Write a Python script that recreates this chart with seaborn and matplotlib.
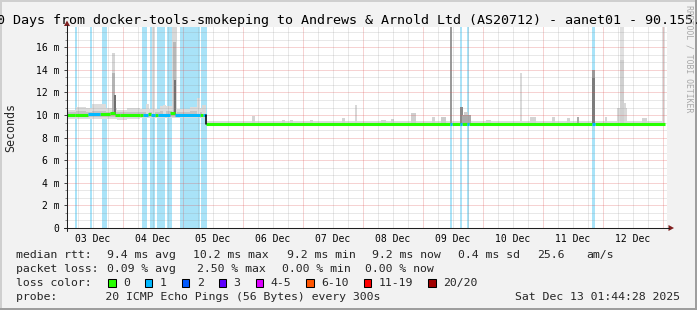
import numpy as np
import pandas as pd
import matplotlib
matplotlib.use("Agg")
import matplotlib.pyplot as plt
from matplotlib.patches import Rectangle, Polygon
from matplotlib.lines import Line2D
import seaborn as sns

# ---------------- data (time in hours since 03 Dec 00:00, values in ms) -------------
day_labels = ["03 Dec", "04 Dec", "05 Dec", "06 Dec", "07 Dec",
              "08 Dec", "09 Dec", "10 Dec", "11 Dec", "12 Dec"]
y_ticks = [0, 2, 4, 6, 8, 10, 12, 14, 16]
y_labels = ["0", "2 m", "4 m", "6 m", "8 m", "10 m", "12 m", "14 m", "16 m"]

# light-blue loss background bands (start, end)
loss_start = [4.9, 10.9, 15.7, 31.7, 34.9, 37.7, 41.6, 47.0, 55.3, 154.9, 158.9, 161.6, 211.6]
loss_end = [5.8, 11.8, 17.7, 33.7, 36.9, 40.9, 43.7, 54.9, 57.7, 155.6, 159.9, 162.6, 212.9]

# median rtt step line: segment start, value, loss class
med_t = [1.7, 4.9, 10.1, 14.9, 18.9, 20.9, 22.9, 30.9, 32.1, 34.1, 35.3, 36.9, 38.1,
         42.9, 44.9, 54.9, 56.1, 57.3, 154.9, 155.6, 158.9, 159.9, 161.6, 162.6,
         211.6, 212.9]
med_v = [10.0, 10.05, 10.08, 10.1, 10.2, 10.0, 9.97, 10.05, 10.05, 10.08, 10.05, 10.05,
         10.05, 10.2, 10.05, 10.05, 10.05, 9.22, 9.22, 9.22, 9.22, 9.22, 9.22, 9.22,
         9.22, 9.22]
med_loss = ["0", "0", "1", "0", "0", "0", "0", "0", "1", "0", "1", "0", "1",
            "0", "1", "0", "1", "0", "1", "0", "1", "0", "1", "0", "1", "0"]
med_end = 240.9

# smoke envelope (step)
smoke_t = [1.7, 5.3, 9.3, 11.7, 17.3, 21.7, 25.7, 30.9, 38.9, 45.3, 50.9, 54.9, 57.3, 240.9]
smoke_lo = [9.65, 9.65, 9.65, 9.65, 9.65, 9.6, 9.65, 9.7, 9.7, 9.7, 9.7, 9.7, 9.1, 9.1]
smoke_hi = [10.45, 10.75, 10.6, 10.95, 10.6, 10.45, 10.6, 10.55, 10.8, 10.55, 10.75, 10.6, 9.47, 9.47]
core_lo = [9.85, 9.85, 9.85, 9.85, 9.85, 9.8, 9.85, 9.85, 9.85, 9.85, 9.85, 9.85, 9.15, 9.15]
core_hi = [10.3, 10.35, 10.3, 10.4, 10.3, 10.25, 10.3, 10.3, 10.35, 10.3, 10.35, 10.3, 9.3, 9.3]

# smoke spikes: centre, width, top, grey
spike_t = [20.2, 20.2, 21.0, 34.1, 36.3, 40.9, 44.7, 44.7, 44.9, 54.5, 56.5,
           76.2, 88.2, 91.7, 99.5, 112.2, 117.3, 128.5, 132.1, 140.5, 148.3, 152.5,
           155.3, 159.4, 161.3, 161.7, 170.5, 183.2, 188.1, 196.2, 202.2, 206.1,
           212.2, 212.2, 217.3, 223.6, 223.8, 223.8, 225.0, 232.6, 240.2]
spike_w = [1.3, 1.3, 0.8, 1.2, 1.4, 1.2, 1.8, 1.4, 1.0, 1.2, 1.6,
           1.3, 1.3, 1.2, 1.2, 1.3, 0.8, 2.0, 1.2, 2.0, 1.2, 2.0,
           0.8, 1.1, 1.6, 3.6, 2.0, 0.7, 2.7, 1.3, 1.3, 1.0,
           1.3, 1.3, 0.7, 4.0, 1.7, 1.7, 0.9, 2.0, 1.3]
spike_top = [15.5, 13.7, 11.8, 11.0, 17.8, 10.9, 17.8, 16.5, 13.1, 11.5, 10.9,
             9.9, 9.6, 9.6, 9.55, 9.75, 10.9, 9.6, 9.65, 10.2, 9.85, 9.8,
             17.8, 10.7, 10.3, 10.05, 9.6, 13.7, 9.8, 9.8, 9.7, 9.8,
             14.0, 13.3, 9.8, 10.6, 17.8, 14.9, 11.1, 9.7, 17.8]
spike_col = ["#d6d6d6", "#b4b4b4", "#6e6e6e", "#dddddd", "#dcdcdc", "#dddddd", "#d8d8d8",
             "#b8b8b8", "#727272", "#dddddd", "#d8d8d8",
             "#d4d4d4", "#d4d4d4", "#d4d4d4", "#d4d4d4", "#d4d4d4", "#d8d8d8", "#d4d4d4",
             "#d4d4d4", "#cfcfcf", "#d4d4d4", "#cccccc",
             "#9a9a9a", "#8a8a8a", "#cfcfcf", "#aaaaaa", "#d4d4d4", "#dadada", "#d4d4d4",
             "#d4d4d4", "#d4d4d4", "#aaaaaa",
             "#9a9a9a", "#7c7c7c", "#d4d4d4", "#d8d8d8", "#e0e0e0", "#d0d0d0", "#d8d8d8",
             "#d4d4d4", "#dedede"]

loss_names = ["0", "1", "2", "3", "4-5", "6-10", "11-19", "20/20"]
loss_colors = ["#26ff00", "#00b8ff", "#0059ff", "#5e00ff", "#dd00ff", "#ff5500", "#ff0000", "#a10000"]

title = "10 Days from docker-tools-smokeping to Andrews & Arnold Ltd (AS20712) - aanet01 - 90.155.53.19"
rtt_items = ["median rtt:", "9.4 ms avg", "10.2 ms max", "9.2 ms min", "9.2 ms now",
             "0.4 ms sd", "25.6", "am/s"]
loss_items = ["packet loss:", "0.09 % avg", "2.50 % max", "0.00 % min", "0.00 % now"]
line3 = "loss color:"
line4 = "probe:       20 ICMP Echo Pings (56 Bytes) every 300s"
stamp = "Sat Dec 13 01:44:28 2025"

# ---------------- figure ----------------
sns.set_theme(style="white")
plt.rcParams["font.family"] = ["DejaVu Sans Mono", "DejaVu Sans"]

W, H = 697, 310
L, R, T, B = 67, 667, 27, 228
fig = plt.figure(figsize=(W / 100, H / 100), dpi=100)
fig.patch.set_facecolor("#f2f2f2")
ax = fig.add_axes([L / W, 1 - B / H, (R - L) / W, (B - T) / H])
ax.set_facecolor("white")
X0, X1 = 1.72, 241.72
YMAX = 17.8

# loss bands
for s, e in zip(loss_start, loss_end):
    ax.axvspan(s, e, color="#a9e3f8", lw=0, zorder=1)

# smoke envelope
ax.fill_between(smoke_t, smoke_lo, smoke_hi, step="post", color="#dcdcdc", lw=0, zorder=2)
ax.fill_between(smoke_t, core_lo, core_hi, step="post", color="#c4c4c4", lw=0, zorder=2)

# spikes
med_t_arr = np.array(med_t)
base = [med_v[int(np.searchsorted(med_t_arr, t, side="right")) - 1] for t in spike_t]
heights = [top - b for top, b in zip(spike_top, base)]
ax.bar(spike_t, heights, width=spike_w, bottom=base, color=spike_col, lw=0, zorder=3)

# grid
grey = (0.56, 0.56, 0.56, 0.4)
red = (0.87, 0.31, 0.31, 0.5)
dots = (0, (1, 1))
for k in range(1, 41):
    h = 6 * k
    if h > X1:
        break
    col = red if h % 24 == 0 else grey
    ax.axvline(h, color=col, lw=0.72, ls=dots, zorder=4)
yminor = [i * 2 / 3 for i in range(1, 27)]
for i, y in enumerate(yminor, start=1):
    if y >= YMAX:
        break
    col = red if i % 3 == 0 else grey
    ax.axhline(y, color=col, lw=0.72, ls=dots, zorder=4)

# median line
rows = []
for i in range(len(med_t)):
    t1 = med_t[i + 1] if i + 1 < len(med_t) else med_end
    rows.append(dict(t=med_t[i], v=med_v[i], seg=i, loss=med_loss[i]))
    rows.append(dict(t=t1, v=med_v[i], seg=i, loss=med_loss[i]))
df = pd.DataFrame(rows)
sns.lineplot(data=df, x="t", y="v", units="seg", hue="loss",
             palette={"0": loss_colors[0], "1": loss_colors[1]},
             estimator=None, sort=False, legend=False, lw=2.2,
             solid_capstyle="butt", ax=ax, zorder=6)
ax.plot([57.3, 57.3], [10.05, 9.22], color="black", lw=1.1, zorder=7)

ax.set_xlim(X0, X1)
ax.set_ylim(0, YMAX)
ax.set_xlabel("")
ax.set_ylabel("")
for sp in ax.spines.values():
    sp.set_visible(False)

ax.set_xticks([12 + 24 * i for i in range(len(day_labels))])
ax.set_xticklabels(day_labels)
ax.set_xticks([6 * k for k in range(1, 41) if 6 * k < X1], minor=True)
ax.set_yticks(y_ticks)
ax.set_yticklabels(y_labels)
ax.set_yticks([y for y in yminor if y < YMAX], minor=True)
ax.tick_params(axis="x", which="major", length=0, pad=4.0, labelsize=7, labelcolor="black")
ax.tick_params(axis="x", which="minor", length=1.5, width=0.7, color="#8f8f8f", direction="out")
ax.tick_params(axis="y", which="major", length=2.2, width=0.7, color="#444444", pad=3.2,
               labelsize=7, labelcolor="black", left=True)
ax.tick_params(axis="y", which="minor", length=1.5, width=0.7, color="#8f8f8f", left=True)

# ---------------- overlay in pixel coordinates ----------------
ov = fig.add_axes([0, 0, 1, 1], zorder=10)
ov.set_xlim(0, W)
ov.set_ylim(H, 0)
ov.axis("off")
ov.patch.set_alpha(0)

# frame shading
ov.add_line(Line2D([0, W], [1, 1], color="#cfcfcf", lw=1.44))
ov.add_line(Line2D([1, 1], [0, H], color="#cfcfcf", lw=1.44))
ov.add_line(Line2D([0, W], [H - 1, H - 1], color="#9e9e9e", lw=1.44))
ov.add_line(Line2D([W - 1, W - 1], [0, H], color="#9e9e9e", lw=1.44))

# axes with arrows
ov.add_line(Line2D([L, L], [B + 3, T - 2], color="#1f1f1f", lw=0.75))
ov.add_line(Line2D([L - 3, R + 2], [B, B], color="#1f1f1f", lw=0.75))
ov.add_patch(Polygon([[L - 3, T - 1], [L + 3, T - 1], [L, T - 6.5]], closed=True,
                     color="#801f1f", lw=0))
ov.add_patch(Polygon([[R + 1.5, B - 3], [R + 1.5, B + 3], [R + 7, B]], closed=True,
                     color="#801f1f", lw=0))

# texts
ov.text(-11.3, 24, title, ha="left", va="baseline", fontsize=9.6, color="black")
ov.text(689, 5, "RRDTOOL / TOBI OETIKER", rotation=-90, ha="center", va="top",
        fontsize=5.9, color="#a8a8a8")
ov.text(11, 128, "Seconds", rotation=90, ha="center", va="center", fontsize=8.4)

LF = 8.25
CW = 6.9
rtt_x = [16, 107.3, 193.3, 286.7, 372.3, 458.3, 536.7, 586.7]
for s, x in zip(rtt_items, rtt_x):
    ov.text(x, 258, s, ha="left", va="baseline", fontsize=LF)
loss_x = [16, 107.3, 197, 282, 365]
for s, x in zip(loss_items, loss_x):
    ov.text(x, 272, s, ha="left", va="baseline", fontsize=LF)
ov.text(16, 286, line3, ha="left", va="baseline", fontsize=LF)
ov.text(16, 300, line4, ha="left", va="baseline", fontsize=LF)
ov.text(680, 300, stamp, ha="right", va="baseline", fontsize=LF)

bx = 108
for name, col in zip(loss_names, loss_colors):
    ov.add_patch(Rectangle((bx, 279), 7.5, 7.5, facecolor=col, edgecolor="black", lw=0.75))
    ov.text(bx + 15, 286, name, ha="left", va="baseline", fontsize=LF)
    bx = bx + 15 + len(name) * CW + 15

fig.savefig("out.png", dpi=100, facecolor=fig.get_facecolor())
